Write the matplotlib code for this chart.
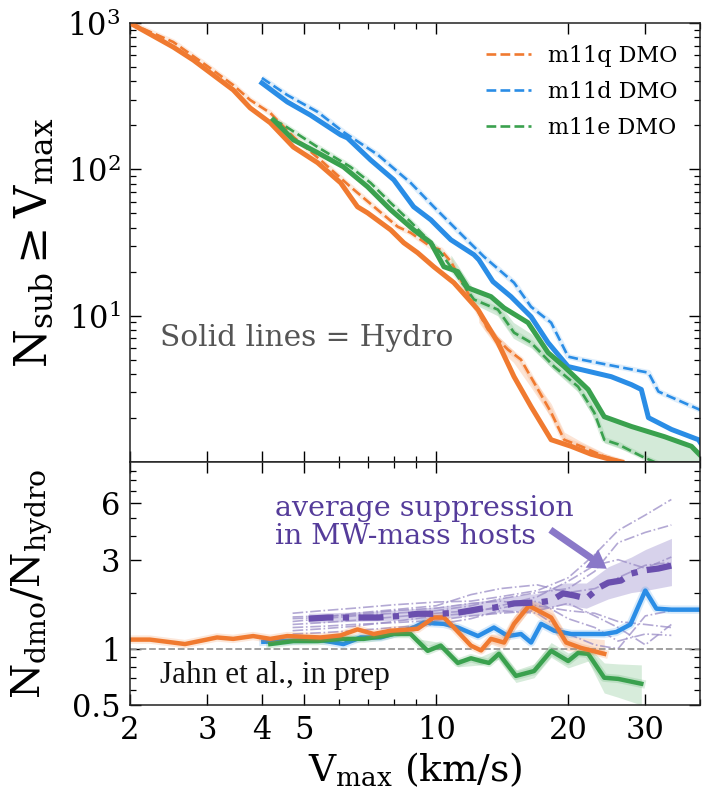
import numpy as np
import matplotlib
matplotlib.use("Agg")
import matplotlib.pyplot as plt
from matplotlib.ticker import LogLocator, NullFormatter, FixedLocator, FixedFormatter

plt.rcParams['font.family'] = ['DejaVu Serif']
plt.rcParams['mathtext.fontset'] = 'dejavuserif'

c_q = '#f07a30'
c_d = '#2a8de6'
c_e = '#3aa14e'
c_p = '#6a4fae'

# ---- top panel: cumulative counts ----
q_hyd_x = [2.0, 2.51, 2.79, 3.44, 3.76, 4.18, 4.72, 5.36, 6.05, 6.37, 6.61, 6.97, 7.87, 8.43, 9.07, 9.87,
           10.97, 12.45, 13.83, 15.05, 16.46, 18.29, 20.32, 22.58, 25.08, 26.5]
q_hyd_y = [1000, 685, 558, 349, 263, 208, 142, 111, 80.9, 64.9, 55.5, 50.4, 38.6, 31.5, 26.9, 21.6,
           16.8, 11.0, 6.54, 3.83, 2.39, 1.42, 1.28, 1.13, 1.04, 1.0]
q_dmo_x = [2.0, 2.51, 3.0, 3.44, 3.76, 4.18, 4.72, 5.53, 6.37, 7.35, 8.17, 8.74, 9.72, 10.24, 10.8,
           13.12, 14.58, 15.61, 16.72, 18.29, 19.58, 21.42, 24.18, 26.8]
q_dmo_y = [1000, 742, 509, 377, 298, 243, 167, 111, 76, 52.9, 40.5, 36.9, 29.6, 28.2, 23.4,
           8.03, 5.86, 5.01, 3.49, 2.18, 1.42, 1.28, 1.09, 1.0]
q_band_x = [12.5, 13.8, 15.0, 16.5, 18.3, 19.6, 21.4, 24.2, 26.0]
q_band_lo = [9.0, 6.0, 4.8, 3.2, 2.0, 1.35, 1.22, 1.03, 0.98]
q_band_hi = [11.0, 7.3, 5.8, 3.9, 2.5, 1.6, 1.38, 1.15, 1.06]

d_hyd_x = [4.0, 4.57, 5.16, 6.05, 6.27, 7.08, 8.0, 8.88, 9.72, 10.08, 10.8, 12.19, 12.51, 13.47, 14.81,
           16.46, 18.0, 20.0, 21.42, 25.08, 27.88, 29.38, 30.5, 34.42, 39.68, 40.3]
d_hyd_y = [389, 289, 235, 172, 164, 116, 84.8, 55.5, 45.2, 40.5, 33.0, 26.1, 24.1, 17.1, 13.5,
           9.84, 6.54, 4.49, 4.28, 3.83, 3.38, 3.13, 2.01, 1.67, 1.42, 1.32]
d_dmo_x = [4.0, 4.57, 5.36, 6.14, 7.35, 8.74, 9.87, 11.56, 12.85, 15.05, 16.46, 18.29, 20.0, 21.42,
           30.5, 32.14, 40.3]
d_dmo_y = [421, 322, 247, 180, 126, 80.9, 55.5, 34.6, 25.3, 16.8, 11.5, 8.96, 5.25, 5.01,
           4.08, 3.03, 2.25]

e_hyd_x = [4.25, 4.72, 5.36, 6.14, 6.97, 7.87, 8.88, 9.72, 10.41, 11.2, 11.81, 13.33, 14.28, 16.2,
           18.0, 19.58, 22.22, 24.18, 27.88, 33.18, 38.24, 40.3]
e_hyd_y = [218, 159, 130, 104, 76, 52.9, 38.6, 31.5, 21.6, 20.0, 15.5, 13.5, 11.3, 8.96,
           5.59, 4.49, 3.13, 2.04, 1.75, 1.49, 1.28, 1.09]
e_dmo_x = [4.25, 4.48, 5.36, 6.37, 7.08, 7.87, 8.74, 10.24, 12.19, 13.83, 15.05, 16.46, 18.58, 21.08,
           22.94, 24.18, 26.02, 29.86, 32.0]
e_dmo_y = [218, 201, 142, 104, 80.9, 59.0, 43.8, 26.9, 12.9, 11.0, 7.66, 6.54, 4.49, 3.27,
           2.18, 1.42, 1.32, 1.07, 0.98]
e_band_x = [10.8, 12.2, 13.8, 15.0, 16.5, 18.6, 21.1, 22.9, 24.2, 26.0, 30.0, 35.0, 40.0]
e_band_lo = [21, 12, 10, 7.0, 6.0, 4.2, 3.0, 2.0, 1.35, 1.25, 1.05, 0.95, 0.9]
e_band_hi = [26, 15, 12.5, 9.0, 7.5, 5.0, 3.6, 2.7, 2.1, 1.9, 1.65, 1.4, 1.15]

# ---- bottom panel: ratio dmo / hydro ----
q_rat_x = [2.0, 2.22, 2.67, 3.16, 3.44, 3.82, 4.18, 4.57, 5.44, 6.05, 6.61, 7.2, 7.87, 8.74, 9.07,
           9.87, 10.41, 10.97, 12.0, 12.65, 13.33, 14.28, 15.05, 16.28, 18.29, 19.8, 21.42, 24.18]
q_rat_y = [1.12, 1.12, 1.06, 1.15, 1.13, 1.17, 1.13, 1.17, 1.15, 1.18, 1.27, 1.2, 1.25, 1.27, 1.28,
           1.47, 1.47, 1.30, 1.04, 0.98, 1.13, 1.08, 1.36, 1.70, 1.47, 1.08, 1.01, 0.94]
q_rb_x = [12.65, 13.33, 14.28, 15.05, 16.28, 18.29, 19.8, 21.42, 24.18]
q_rb_lo = [0.95, 1.06, 1.0, 1.25, 1.6, 1.3, 0.98, 0.96, 0.92]
q_rb_hi = [1.02, 1.2, 1.2, 1.5, 1.85, 1.65, 1.2, 1.15, 1.12]

d_rat_x = [4.03, 4.48, 5.36, 6.14, 6.72, 7.46, 8.17, 8.88, 9.36, 10.41, 11.2, 12.45, 13.54, 14.58,
           15.61, 16.46, 17.35, 18.58, 20.32, 24.18, 25.76, 27.74, 30.0, 31.8, 34.42, 40.3]
d_rat_y = [1.09, 1.10, 1.12, 1.06, 1.15, 1.15, 1.22, 1.30, 1.38, 1.36, 1.30, 1.17, 1.30, 1.17,
           1.20, 1.08, 1.36, 1.25, 1.20, 1.20, 1.23, 1.35, 2.05, 1.64, 1.62, 1.62]

e_rat_x = [4.18, 4.72, 5.36, 6.05, 6.83, 7.58, 8.0, 8.74, 9.07, 9.56, 10.24, 11.2, 12.0, 12.65, 13.19,
           13.9, 15.2, 16.72, 18.29, 20.0, 21.08, 22.22, 24.18, 26.02, 29.38]
e_rat_y = [1.06, 1.10, 1.10, 1.13, 1.13, 1.17, 1.20, 1.20, 1.10, 0.975, 1.04, 0.84, 0.89, 0.86, 0.84,
           0.94, 0.716, 0.76, 0.975, 0.86, 0.95, 0.94, 0.70, 0.69, 0.65]
e_rb_x = [9.07, 10.24, 11.2, 12.65, 13.9, 15.2, 16.72, 18.29, 20.0, 22.22, 24.18, 26.02, 29.38]
e_rb_lo = [1.07, 1.0, 0.8, 0.82, 0.88, 0.66, 0.70, 0.9, 0.79, 0.86, 0.58, 0.55, 0.50]
e_rb_hi = [1.13, 1.08, 0.88, 0.91, 1.0, 0.77, 0.83, 1.08, 0.95, 1.03, 0.84, 0.83, 0.82]

mw_x = [5.11, 5.65, 6.37, 7.35, 8.30, 9.07, 10.08, 11.2, 12.65, 13.54, 15.05, 17.08, 18.29, 19.48,
        20.64, 22.0, 23.55, 24.7, 26.4, 27.88, 29.86, 32.14, 34.42]
mw_y = [1.45, 1.47, 1.47, 1.47, 1.50, 1.54, 1.54, 1.56, 1.64, 1.66, 1.75, 1.77, 1.81, 1.98,
        1.93, 1.86, 2.13, 2.26, 2.32, 2.53, 2.63, 2.69, 2.79]
mw_band_x = [5.11, 6.37, 8.30, 10.08, 12.65, 15.05, 17.08, 19.48, 22.0, 24.7, 27.88, 30.0, 34.42]
mw_band_lo = [1.38, 1.40, 1.42, 1.45, 1.52, 1.60, 1.62, 1.72, 1.65, 1.85, 2.0, 2.05, 2.18]
mw_band_hi = [1.55, 1.57, 1.62, 1.68, 1.80, 1.92, 1.98, 2.25, 2.25, 2.75, 3.1, 3.4, 3.9]

host_x = [4.7, 5.5, 6.5, 8, 10, 12, 14, 17, 20, 23, 26, 30, 34.4]
host_1 = [1.55, 1.60, 1.65, 1.72, 1.78, 1.80, 1.90, 2.05, 2.40, 3.20, 4.30, 5.20, 6.30]
host_2 = [1.40, 1.45, 1.50, 1.55, 1.60, 1.70, 1.85, 2.00, 2.10, 2.60, 3.70, 4.20, 4.60]
host_3 = [1.25, 1.28, 1.32, 1.40, 1.50, 1.55, 1.70, 1.90, 2.30, 2.80, 3.00, 2.70, 3.10]
host_4 = [1.48, 1.50, 1.52, 1.60, 1.65, 1.75, 1.80, 1.70, 1.60, 1.55, 1.40, 1.35, 1.30]
host_5 = [1.35, 1.38, 1.42, 1.48, 1.55, 1.60, 1.65, 1.80, 1.45, 1.30, 1.10, 1.20, 1.18]
host_6 = [1.30, 1.32, 1.35, 1.38, 1.42, 1.50, 1.55, 1.60, 1.75, 1.50, 1.30, 1.05, 1.35]
host_7 = [1.45, 1.47, 1.55, 1.62, 1.70, 1.95, 2.10, 2.20, 2.00, 2.10, 2.40, 2.80, 2.90]
host_8 = [1.20, 1.22, 1.25, 1.30, 1.35, 1.45, 1.60, 1.55, 1.20, 1.05, 1.00, 1.50, 1.60]
hosts = [host_1, host_2, host_3, host_4, host_5, host_6, host_7, host_8]

xticks = [2, 3, 4, 5, 10, 20, 30]

fig = plt.figure(figsize=(7.02, 7.91), dpi=100)
ax1 = fig.add_axes([0.1852, 0.4159, 0.812, 0.555])
ax2 = fig.add_axes([0.1852, 0.1087, 0.812, 0.3072])

lw_s = 3.6
lw_d = 1.9

# top
ax1.fill_between(q_band_x, q_band_lo, q_band_hi, color=c_q, alpha=0.2, lw=0)
ax1.fill_between(e_band_x, e_band_lo, e_band_hi, color=c_e, alpha=0.22, lw=0)
for xs, ys, c in [(q_dmo_x, q_dmo_y, c_q), (d_dmo_x, d_dmo_y, c_d), (e_dmo_x, e_dmo_y, c_e)]:
    ax1.plot(xs, ys, color=c, lw=4, alpha=0.15, solid_capstyle='butt')
ax1.plot(q_dmo_x, q_dmo_y, '--', color=c_q, lw=lw_d, label='m11q DMO')
ax1.plot(d_dmo_x, d_dmo_y, '--', color=c_d, lw=lw_d, label='m11d DMO')
ax1.plot(e_dmo_x, e_dmo_y, '--', color=c_e, lw=lw_d, label='m11e DMO')
ax1.plot(q_hyd_x, q_hyd_y, '-', color=c_q, lw=lw_s)
ax1.plot(d_hyd_x, d_hyd_y, '-', color=c_d, lw=lw_s)
ax1.plot(e_hyd_x, e_hyd_y, '-', color=c_e, lw=lw_s)

ax1.set_xscale('log')
ax1.set_yscale('log')
ax1.set_xlim(2, 40)
ax1.set_ylim(1, 1000)
ax1.set_yticks([10, 100, 1000])
ax1.xaxis.set_major_locator(FixedLocator(xticks))
ax1.xaxis.set_minor_locator(LogLocator(subs=np.arange(2, 10)))
ax1.xaxis.set_major_formatter(NullFormatter())
ax1.xaxis.set_minor_formatter(NullFormatter())
ax1.set_ylabel(r'$\mathrm{N_{sub} \geq V_{max}}$', fontsize=32)
ax1.yaxis.set_label_coords(-0.13, 0.5)
ax1.text(2.34, 7.08, 'Solid lines = Hydro', fontsize=21.3, color='#555555', va='center', ha='left')
leg = ax1.legend(loc='upper right', frameon=False, fontsize=16, handlelength=2.0,
                 labelspacing=0.62, borderaxespad=0.6, handletextpad=0.8)

# bottom
ax2.fill_between(mw_band_x, mw_band_lo, mw_band_hi, color='#9d8fcf', alpha=0.4, lw=0)
ax2.fill_between(q_rb_x, q_rb_lo, q_rb_hi, color=c_q, alpha=0.2, lw=0)
ax2.fill_between(e_rb_x, e_rb_lo, e_rb_hi, color=c_e, alpha=0.2, lw=0)
for h in hosts:
    ax2.plot(host_x, h, '-.', color='#9a8cc6', lw=1.2, alpha=0.75)
ax2.axhline(1.0, color='#999999', ls='--', lw=1.3)
for xs, ys, c in [(d_rat_x, d_rat_y, c_d), (e_rat_x, e_rat_y, c_e), (q_rat_x, q_rat_y, c_q)]:
    ax2.plot(xs, ys, color=c, lw=6, alpha=0.18)
    ax2.plot(xs, ys, color=c, lw=3.2)
ax2.plot(mw_x, mw_y, '-.', color=c_p, lw=4.5, dashes=(4, 1.5, 1, 1.5))

ax2.set_xscale('log')
ax2.set_yscale('log')
ax2.set_xlim(2, 40)
ax2.set_ylim(0.5, 10)
ax2.xaxis.set_major_locator(FixedLocator(xticks))
ax2.xaxis.set_major_formatter(FixedFormatter([str(v) for v in xticks]))
ax2.xaxis.set_minor_locator(LogLocator(subs=np.arange(2, 10)))
ax2.xaxis.set_minor_formatter(NullFormatter())
ax2.yaxis.set_major_locator(FixedLocator([0.5, 1, 3, 6]))
ax2.yaxis.set_major_formatter(FixedFormatter(['0.5', '1', '3', '6']))
ax2.yaxis.set_minor_locator(LogLocator(subs=np.arange(2, 10)))
ax2.yaxis.set_minor_formatter(NullFormatter())
ax2.set_ylabel(r'$\mathrm{N_{dmo}/N_{hydro}}$', fontsize=29)
ax2.yaxis.set_label_coords(-0.133, 0.5)
ax2.set_xlabel(r'$\mathrm{V_{max}}$ (km/s)', fontsize=27, labelpad=4)

ax2.text(2.34, 0.716, 'Jahn et al., in prep', fontsize=22.5, color='#111111', va='center', ha='left',
         family='Liberation Serif')
ax2.text(4.29, 4.76, 'average suppression\nin MW-mass hosts', fontsize=20.5, color='#553c9a',
         va='center', ha='left', linespacing=1.05)
ax2.annotate('', xy=(24.8, 2.63), xytext=(18.0, 4.42),
             arrowprops=dict(arrowstyle='simple,head_length=1.3,head_width=1.6,tail_width=0.5',
                             color='#8a78c8', lw=0))

for ax in (ax1, ax2):
    ax.tick_params(which='both', direction='in', top=True, right=True, labelsize=22, pad=7)
    ax.tick_params(which='major', length=8, width=1.0)
    ax.tick_params(which='minor', length=4.5, width=0.9)
    for s in ax.spines.values():
        s.set_linewidth(1.1)
        s.set_color('#222222')

fig.savefig('out.png', dpi=100)
